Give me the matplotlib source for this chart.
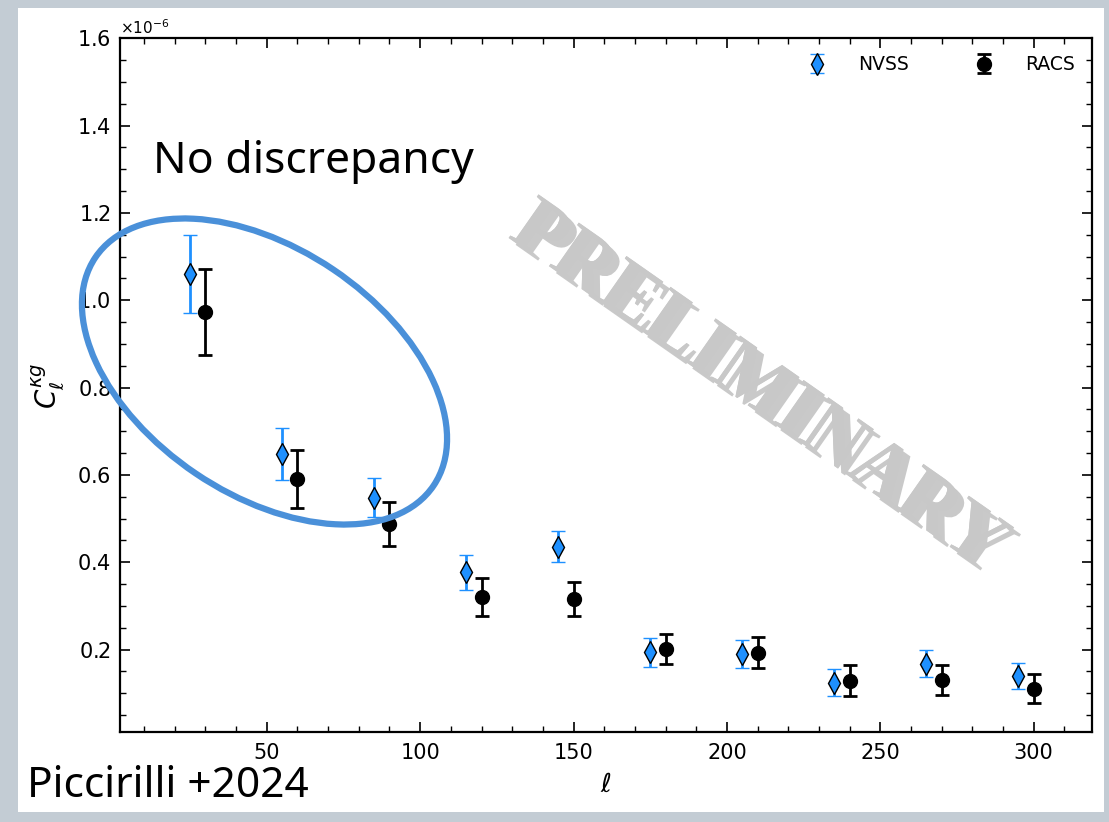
import matplotlib
matplotlib.use("Agg")
import matplotlib.pyplot as plt
import matplotlib.patches as mpatches
import matplotlib.patheffects as pe
from matplotlib.ticker import MultipleLocator
import numpy as np

# ---- data (C_ell in units of 1e-6) ----
ell_nvss = [25, 55, 85, 115, 145, 175, 205, 235, 265, 295]
cl_nvss = [1.061, 0.648, 0.548, 0.377, 0.436, 0.194, 0.191, 0.124, 0.168, 0.139]
err_nvss = [0.089, 0.060, 0.045, 0.040, 0.035, 0.033, 0.032, 0.031, 0.031, 0.030]

ell_racs = [30, 60, 90, 120, 150, 180, 210, 240, 270, 300]
cl_racs = [0.973, 0.591, 0.487, 0.320, 0.316, 0.201, 0.193, 0.129, 0.130, 0.111]
err_racs = [0.099, 0.067, 0.050, 0.044, 0.040, 0.035, 0.035, 0.036, 0.034, 0.033]

scale = 1e-6

fig = plt.figure(figsize=(11.09, 8.22), dpi=100)
fig.patch.set_facecolor('#c3ccd4')
# white slide area
fig.patches.append(mpatches.Rectangle((18/1109, 10/822), (1104-18)/1109, (814-10)/822,
                                      transform=fig.transFigure, facecolor='white',
                                      edgecolor='none', zorder=-10))

ax = fig.add_axes([119.5/1109, 1-732.3/822, (1092-119.5)/1109, (732.3-38.3)/822])
ax.set_facecolor('white')

ax.errorbar(ell_nvss, np.array(cl_nvss)*scale, yerr=np.array(err_nvss)*scale,
            fmt='d', color='dodgerblue', mfc='dodgerblue', mec='black', mew=1.0,
            ms=11, ecolor='dodgerblue', elinewidth=2, capsize=5, capthick=2,
            label='NVSS', zorder=3)
ax.errorbar(ell_racs, np.array(cl_racs)*scale, yerr=np.array(err_racs)*scale,
            fmt='o', color='black', mfc='black', mec='black',
            ms=10, ecolor='black', elinewidth=2, capsize=5, capthick=2,
            label='RACS', zorder=3)

ax.set_xlim(2, 319)
ax.set_ylim(0.0107e-6, 1.6e-6)
ax.xaxis.set_major_locator(MultipleLocator(50))
ax.xaxis.set_minor_locator(MultipleLocator(10))
ax.yaxis.set_major_locator(MultipleLocator(0.2e-6))
ax.yaxis.set_minor_locator(MultipleLocator(0.05e-6))
ax.tick_params(which='both', direction='in', top=True, right=True, labelsize=15)
ax.tick_params(axis='x', which='major', pad=8)
ax.tick_params(axis='y', which='major', pad=6)
ax.tick_params(which='major', length=7, width=1.2)
ax.tick_params(which='minor', length=4, width=1.0)
for s in ax.spines.values():
    s.set_linewidth(1.6)
fmt = ax.yaxis.get_major_formatter()
fmt.set_useMathText(True)
ax.yaxis.get_offset_text().set_fontsize(11)

ax.set_xticks([50, 100, 150, 200, 250, 300])
ax.set_xlabel(r'$\ell$', fontsize=19, labelpad=6)
ax.set_ylabel(r'$C_\ell^{\kappa g}$', fontsize=20, labelpad=8)

ax.legend(loc='upper right', ncol=2, frameon=False, fontsize=13.5,
          handletextpad=1.2, columnspacing=3.0, borderaxespad=0.5)

# annotations
fig.text(153/1109, 1-162/822, 'No discrepancy', fontsize=32, family='Noto Sans',
         va='center', ha='left', color='black')
fig.text(27/1109, 1-797/822, 'Piccirilli +2024', fontsize=30.5, family='Noto Sans',
         va='baseline', ha='left', color='black')

# blue ellipse (display pixels)
ell = mpatches.Ellipse((264.5, 822-371.5), 2*204, 2*123, angle=-34,
                       transform=None, fill=False, edgecolor='#4a90d9', lw=4.5, zorder=5)
fig.patches.append(ell)

# watermark
fig.text(757/1109, 1-388/822, 'PRELIMINARY', fontsize=58, family='Liberation Serif',
         weight='bold', rotation=-35, color='#c8c8c8', ha='center', va='center',
         rotation_mode='anchor',
         path_effects=[pe.withSimplePatchShadow(offset=(5, -5), shadow_rgbFace='#888888', alpha=0.45),
                       pe.Normal()])

fig.savefig('out.png', dpi=100, facecolor=fig.get_facecolor())
